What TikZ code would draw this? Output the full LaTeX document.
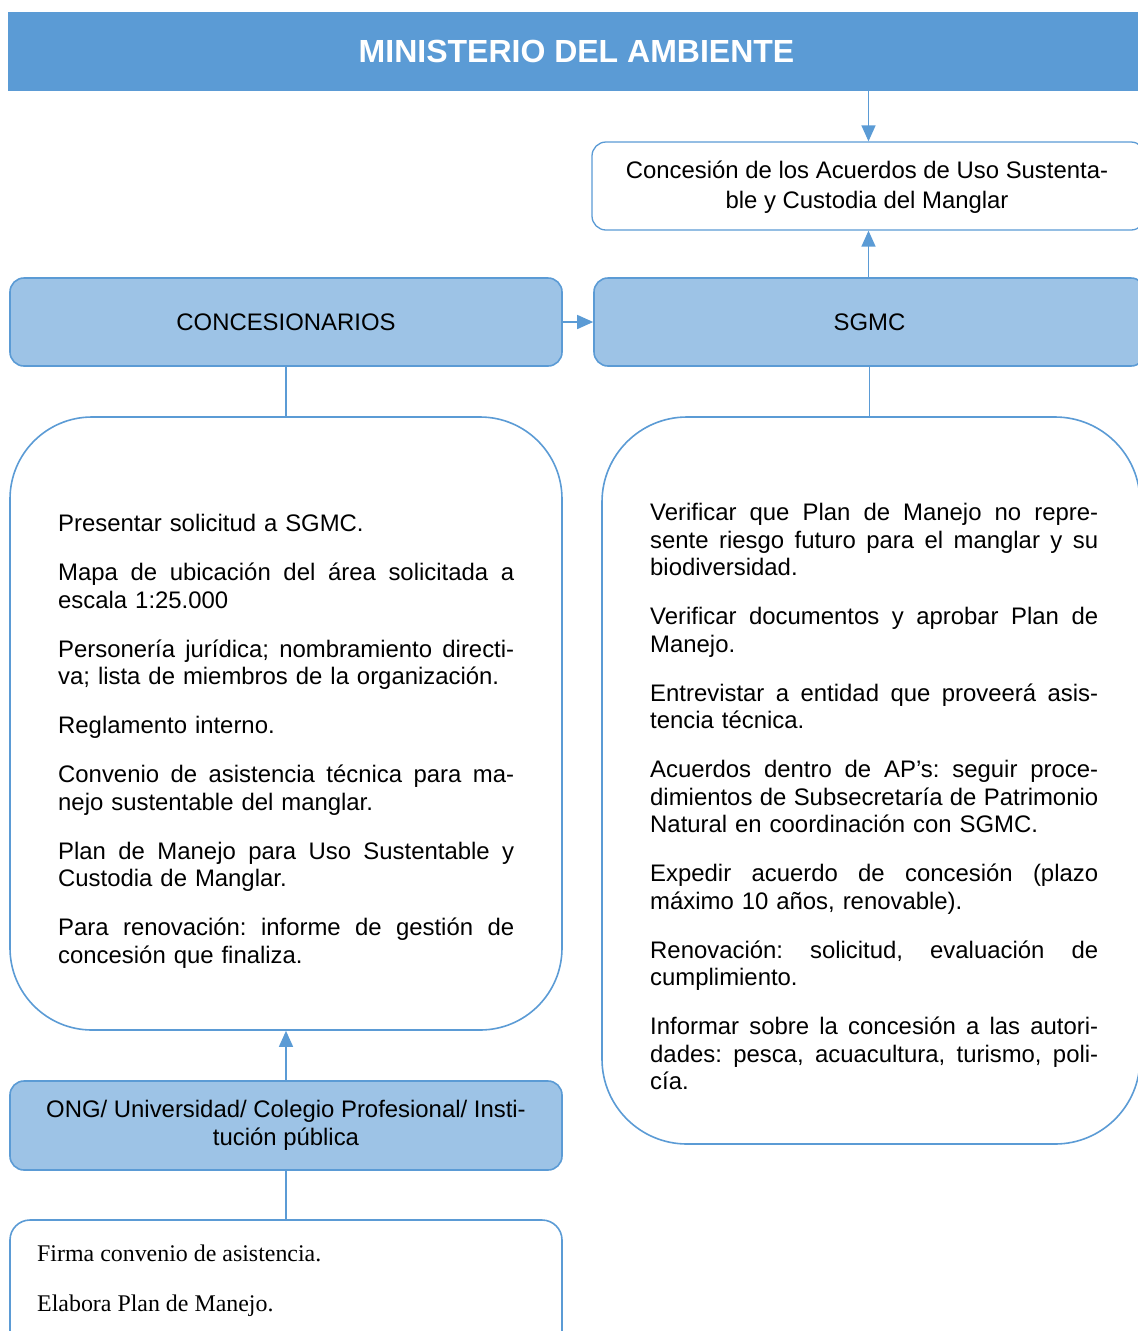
\documentclass[tikz,border=0pt]{standalone}
\usepackage{fontspec}
\setmainfont{Liberation Sans}
\newfontfamily\timesf{Liberation Serif}
\usetikzlibrary{arrows.meta}
\definecolor{hdr}{HTML}{5B9BD5}
\definecolor{lfill}{HTML}{9DC3E6}
\frenchspacing
\newlength\jw
\newcommand\jl[1]{\par\hbox to\jw{\frenchspacing\spaceskip=0.278em plus 1fil\relax #1}}
\newcommand\nl[1]{\par\hbox{#1}}
\newcommand\pg{\par\vspace{21.5pt}}
\tikzset{
  bodyfont/.style={font=\fontsize{23.9}{27.5}\selectfont},
  bluebox/.style={draw=hdr, line width=1.6pt, fill=lfill, rounded corners=14pt, inner sep=0pt, align=center, bodyfont},
  whitebox/.style={draw=hdr, line width=1.3pt, fill=white, inner sep=0pt},
  conn/.style={draw=hdr, line width=1.5pt},
  arr/.style={conn, -{Triangle[length=16pt,width=14pt]}},
  txt/.style={anchor=north west, inner sep=0pt, bodyfont}
}
\begin{document}
\begin{tikzpicture}[x=1pt,y=-1pt]
\useasboundingbox (0,0) rectangle (1138,1331);
\clip (0,0) rectangle (1138,1331);
% header
\node[fill=hdr, inner sep=0pt, minimum width=1137pt, minimum height=79pt, text=white, font=\fontsize{32}{36}\selectfont\bfseries] (head) at (576.5,51.5) {MINISTERIO DEL AMBIENTE};
% concession box
\node[whitebox, rounded corners=14pt, minimum width=553pt, minimum height=88pt] (conc) at (868.5,186) {};
\node[align=center, inner sep=0pt, font=\fontsize{23.9}{30}\selectfont] (conctext) at (867,187) {Concesión de los Acuerdos de Uso Sustenta-\\ble y Custodia del Manglar};
% blue boxes
\node[bluebox, minimum width=552pt, minimum height=88pt] (conces) at (286,322) {CONCESIONARIOS};
\node[bluebox, minimum width=551pt, minimum height=88pt] (sgmc) at (869.5,322) {SGMC};
\node[bluebox, minimum width=552pt, minimum height=89pt, font=\fontsize{23.9}{28}\selectfont] (ong) at (286,1125.5) {ONG/ Universidad/ Colegio Profesional/ Insti-\\tución pública};
% big boxes
\node[whitebox, line width=1.6pt, rounded corners=82pt, minimum width=552pt, minimum height=613pt] (lbox) at (286,723.5) {};
\node[whitebox, line width=1.6pt, rounded corners=85pt, minimum width=538pt, minimum height=727pt] (rbox) at (871,780.5) {};
\node[whitebox, line width=1.6pt, rounded corners=20pt, minimum width=552pt, minimum height=140pt] (bbox) at (286,1290) {};
% connectors
\draw[arr] (conc.north |- head.south) -- (conc.north);
\draw[arr] (sgmc.north -| conc.south) -- (conc.south);
\draw[arr] (conces.east) -- (sgmc.west);
\draw[conn] (conces.south) -- (lbox.north);
\draw[conn] (sgmc.south) -- (sgmc.south |- rbox.north);
\draw[arr] (ong.north) -- (lbox.south);
\draw[conn] (ong.south) -- (bbox.north);
% left text
\node[txt, text width=456pt] (ltext) at (58,504) {%
\setlength\jw{456pt}%
\nl{Presentar solicitud a SGMC.}\pg
\jl{Mapa de ubicación del área solicitada a}
\nl{escala 1:25.000}\pg
\jl{Personería jurídica; nombramiento directi-}
\nl{va; lista de miembros de la organización.}\pg
\nl{Reglamento interno.}\pg
\jl{Convenio de asistencia técnica para ma-}
\nl{nejo sustentable del manglar.}\pg
\jl{Plan de Manejo para Uso Sustentable y}
\nl{Custodia de Manglar.}\pg
\jl{Para renovación: informe de gestión de}
\nl{concesión que finaliza.}\par};
% right text
\node[txt, text width=448pt] (rtext) at (650,493) {%
\setlength\jw{448pt}%
\jl{Verificar que Plan de Manejo no repre-}
\jl{sente riesgo futuro para el manglar y su}
\nl{biodiversidad.}\pg
\jl{Verificar documentos y aprobar Plan de}
\nl{Manejo.}\pg
\jl{Entrevistar a entidad que proveerá asis-}
\nl{tencia técnica.}\pg
\jl{Acuerdos dentro de AP’s: seguir proce-}
\jl{dimientos de Subsecretaría de Patrimonio}
\nl{Natural en coordinación con SGMC.}\pg
\jl{Expedir acuerdo de concesión (plazo}
\nl{máximo 10 años, renovable).}\pg
\jl{Renovación: solicitud, evaluación de}
\nl{cumplimiento.}\pg
\jl{Informar sobre la concesión a las autori-}
\jl{dades: pesca, acuacultura, turismo, poli-}
\nl{cía.}\par};
% bottom text
\node[anchor=base west, inner sep=0pt, font=\timesf\fontsize{23.9}{27.5}\selectfont] (b1) at (37,1261) {Firma convenio de asistencia.};
\node[anchor=base west, inner sep=0pt, font=\timesf\fontsize{23.9}{27.5}\selectfont] (b2) at (37,1311) {Elabora Plan de Manejo.};
\end{tikzpicture}
\end{document}
